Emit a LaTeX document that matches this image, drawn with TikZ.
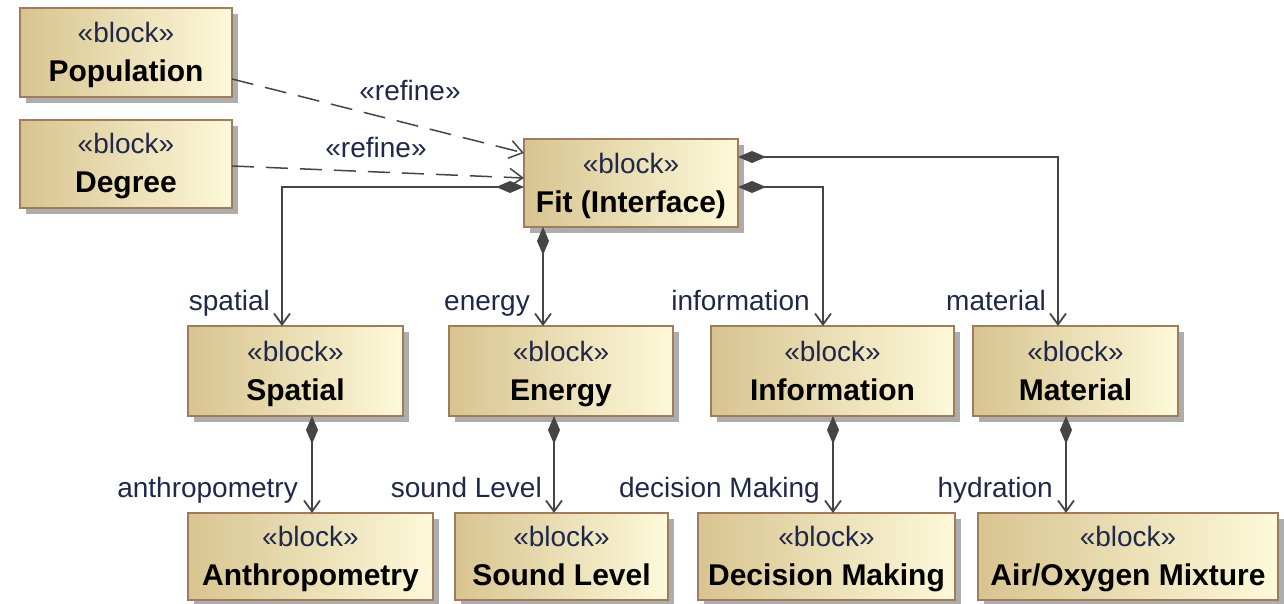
\documentclass[tikz,border=0pt]{standalone}
\usepackage{fontspec}
\setmainfont{Liberation Sans}
\usetikzlibrary{arrows.meta,shadows}
\definecolor{boxL}{HTML}{D8C490}
\definecolor{boxR}{HTML}{FDF9DA}
\definecolor{boxD}{HTML}{A07C5C}
\definecolor{lnC}{HTML}{454545}
\definecolor{txC}{HTML}{20284A}
\newcommand{\blocktext}[1]{\rule{0pt}{25.5pt}{\color{txC}«block»}\\{\fontsize{30}{39}\selectfont\bfseries #1}\rule[-6.5pt]{0pt}{6.5pt}}
\begin{document}
\begin{tikzpicture}[x=1pt,y=-1pt,
  blockbox/.style={draw=boxD, line width=1.6pt, left color=boxL, right color=boxR,
    rectangle, align=center, inner sep=0pt, outer sep=0pt,
    font=\fontsize{28}{39}\selectfont,
    drop shadow={shadow xshift=6pt, shadow yshift=-6pt, fill=black!32, opacity=1}},
  comp/.style={draw=lnC, line width=1.8pt,
    {Diamond[length=28pt,width=12pt]}-{Straight Barb[length=11pt,width=16pt]}},
  refine/.style={draw=lnC, line width=1.5pt, dash pattern=on 22pt off 12pt,
    -{Straight Barb[length=13pt,width=18pt]}},
  lbl/.style={anchor=base east, font=\fontsize{28}{34}\selectfont, text=txC, inner sep=0pt},
  rlbl/.style={anchor=base, font=\fontsize{28}{34}\selectfont, text=txC, inner sep=0pt}
]
\useasboundingbox (0,0) rectangle (1284,604);

% blocks
\node[blockbox, minimum width=212pt, minimum height=89pt] (pop) at (126,52.5) {\blocktext{Population}};
\node[blockbox, minimum width=212pt, minimum height=88pt] (deg) at (126,164) {\blocktext{Degree}};
\node[blockbox, minimum width=214pt, minimum height=88pt] (fit) at (631,183) {\blocktext{Fit (Interface)}};
\node[blockbox, minimum width=215pt, minimum height=90pt] (spa) at (295.5,371) {\blocktext{Spatial}};
\node[blockbox, minimum width=224pt, minimum height=90pt] (ene) at (561,371) {\blocktext{Energy}};
\node[blockbox, minimum width=243pt, minimum height=90pt] (inf) at (832.5,371) {\blocktext{Information}};
\node[blockbox, minimum width=205pt, minimum height=90pt] (mat) at (1075.5,371) {\blocktext{Material}};
\node[blockbox, minimum width=245pt, minimum height=87pt] (ant) at (310.5,556.5) {\blocktext{Anthropometry}};
\node[blockbox, minimum width=213pt, minimum height=87pt] (snd) at (561.5,556.5) {\blocktext{Sound Level}};
\node[blockbox, minimum width=257pt, minimum height=87pt] (dec) at (826.5,556.5) {\blocktext{Decision Making}};
\node[blockbox, minimum width=300pt, minimum height=87pt] (air) at (1128,556.5) {\blocktext{Air/Oxygen Mixture}};

% routing coordinates
\coordinate (csp) at (282,187);
\coordinate (cen) at (543,0);
\coordinate (cinf) at (823,187);
\coordinate (cmat) at (1058,157);
\coordinate (cant) at (312,0);
\coordinate (csnd) at (554,0);
\coordinate (cdec) at (833,0);
\coordinate (cair) at (1066,0);
\coordinate (r1) at (0,79);
\coordinate (r2) at (0,153);
\coordinate (r3) at (0,166);
\coordinate (r4) at (0,178);

% composition connectors
\draw[comp] (fit.west |- csp) -- (csp) -- (spa.north -| csp);
\draw[comp] (fit.south -| cen) -- (ene.north -| cen);
\draw[comp] (fit.east |- cinf) -- (cinf) -- (inf.north -| cinf);
\draw[comp] (fit.east |- cmat) -- (cmat) -- (mat.north -| cmat);
\draw[comp] (spa.south -| cant) -- (ant.north -| cant);
\draw[comp] (ene.south -| csnd) -- (snd.north -| csnd);
\draw[comp] (inf.south -| cdec) -- (dec.north -| cdec);
\draw[comp] (mat.south -| cair) -- (air.north -| cair);

% refine connectors
\draw[refine] (pop.east |- r1) -- (fit.west |- r2);
\draw[refine] (deg.east |- r3) -- (fit.west |- r4);

% labels
\node[rlbl] (lr1) at (410,101) {«refine»};
\node[rlbl] (lr2) at (376,158) {«refine»};
\node[lbl] (lsp) at (270,310) {spatial};
\node[lbl] (len) at (530,310) {energy};
\node[lbl] (linf) at (810,310) {information};
\node[lbl] (lmat) at (1046,310) {material};
\node[lbl] (lant) at (298,497) {anthropometry};
\node[lbl] (lsnd) at (542,497) {sound Level};
\node[lbl] (ldec) at (820,497) {decision Making};
\node[lbl] (lair) at (1053,497) {hydration};
\end{tikzpicture}
\end{document}
